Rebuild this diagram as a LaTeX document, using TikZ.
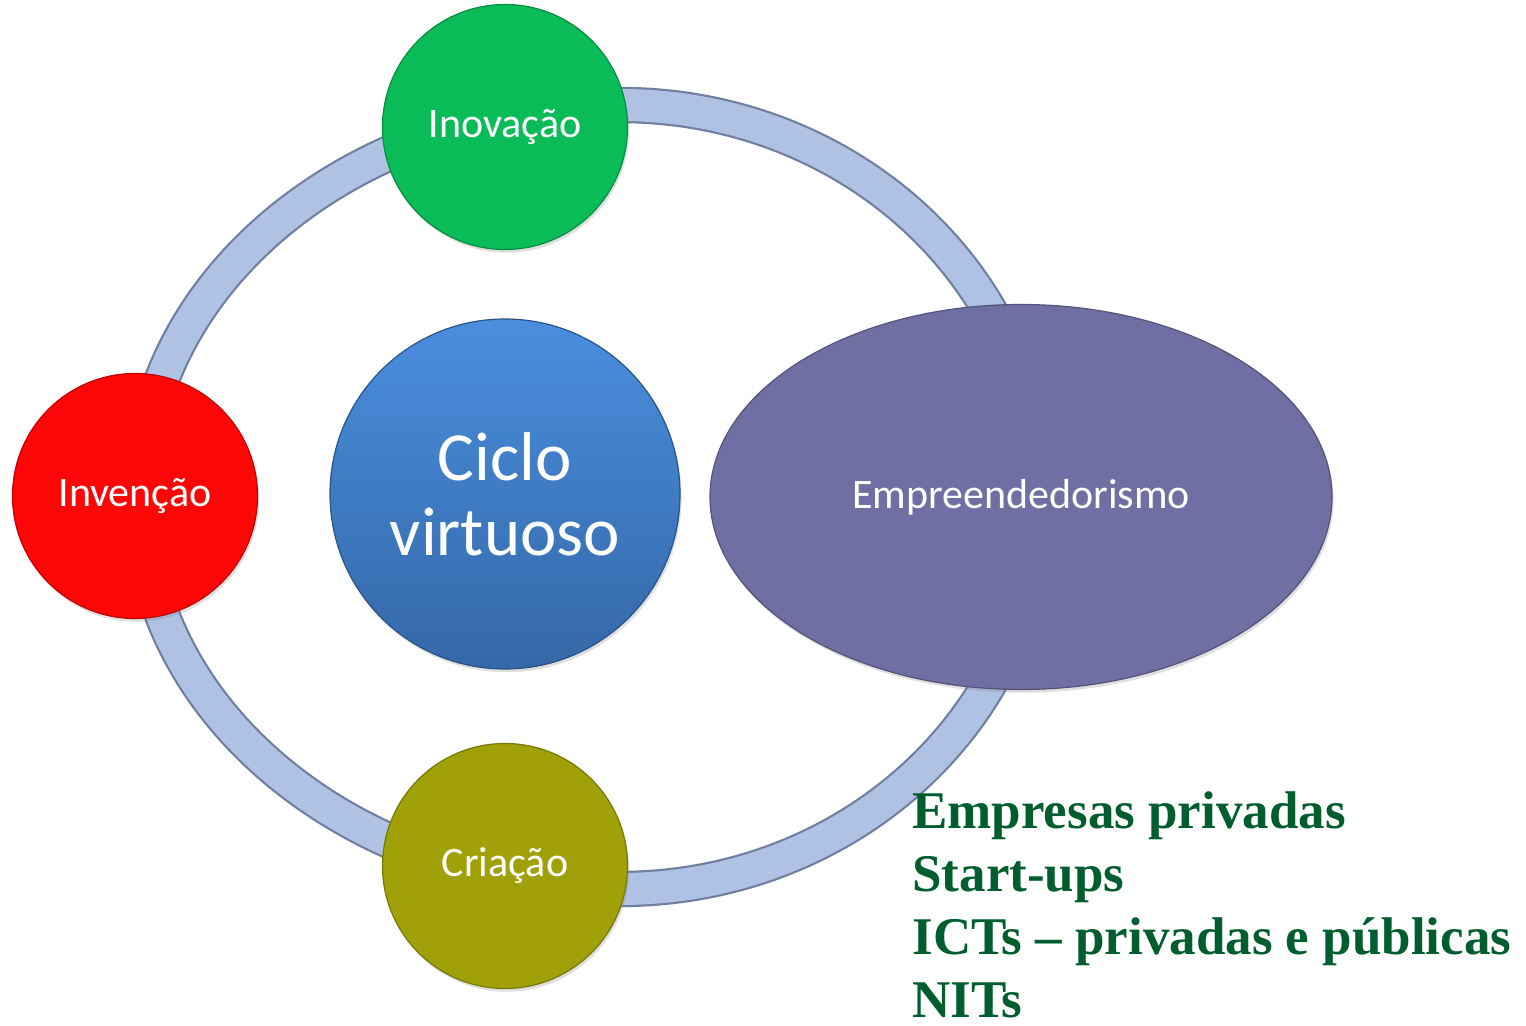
\documentclass[tikz,border=0pt]{standalone}
\usepackage{fontspec}
\usepackage{xcolor}
\usetikzlibrary{shapes.geometric,shadows}
\newfontfamily\rotulofont{Carlito}
\newfontfamily\listafont{Liberation Serif}
\definecolor{verdeInov}{RGB}{9,188,88}
\definecolor{vermInven}{RGB}{255,6,6}
\definecolor{oliva}{RGB}{160,160,8}
\definecolor{cicloTopo}{RGB}{74,142,222}
\definecolor{cicloBase}{RGB}{52,104,168}
\definecolor{roxo}{RGB}{111,111,164}
\definecolor{anelCor}{RGB}{176,194,228}
\definecolor{anelBorda}{RGB}{112,126,160}
\definecolor{verdeLista}{RGB}{0,94,46}

\begin{document}
\begin{tikzpicture}[x=0.5pt,y=0.5pt,yscale=-1,xscale=1,
    bolinha/.style={circle, inner sep=0pt, minimum size=122.5pt, fill=#1, draw=#1!75!black, line width=0.6pt,
        text=white, font=\rotulofont\fontsize{21}{25}\selectfont,
        drop shadow={shadow xshift=0.8pt, shadow yshift=-1.6pt, opacity=0.25}},
    anel/.style={draw=anelBorda, line width=1.1pt, double=anelCor, double distance=16pt},
    lista/.style={align=left, inner sep=0pt, text=verdeLista, font=\listafont\bfseries\fontsize{26.5}{31.5}\selectfont}]
    \useasboundingbox[fill=white] (0,0) rectangle (1526,1026);

    % Ring behind the nodes
    \draw[anel] (620,105) .. controls (851.9,105) and (1040,280.5) .. (1040,497)
        .. controls (1040,713.5) and (851.9,889) .. (620,889)
        .. controls (354.9,889) and (140,713.5) .. (140,497)
        .. controls (140,280.5) and (354.9,105) .. (620,105) -- cycle ;

    % Outer nodes
    \node[bolinha=verdeInov] (inovacao) at (505,127) {Inovação};
    \node[bolinha=vermInven] (invencao) at (135,496) {Invenção};
    \node[bolinha=oliva] (criacao) at (505,866) {Criação};

    % Center
    \node[circle, inner sep=0pt, minimum size=175pt, top color=cicloTopo, bottom color=cicloBase,
        draw=cicloBase!80!black, line width=0.6pt, text=white, align=center,
        font=\rotulofont\fontsize{34.5}{37.5}\selectfont,
        drop shadow={shadow xshift=0.8pt, shadow yshift=-1.6pt, opacity=0.25}] (ciclo) at (505,494) {Ciclo\\virtuoso};

    % Ellipse
    \node[ellipse, inner sep=0pt, minimum width=311pt, minimum height=192.5pt, fill=roxo,
        draw=roxo!75!black, line width=0.6pt, text=white, font=\rotulofont\fontsize{21}{25}\selectfont,
        drop shadow={shadow xshift=0.8pt, shadow yshift=-1.6pt, opacity=0.25}] (empreend) at (1021,497) {Empreendedorismo};

    % Text
    \node[lista, anchor=north west] (setores) at (912,791) {Empresas privadas\\Start-ups\\ICTs – privadas e públicas\\NITs};

\end{tikzpicture}
\end{document}
